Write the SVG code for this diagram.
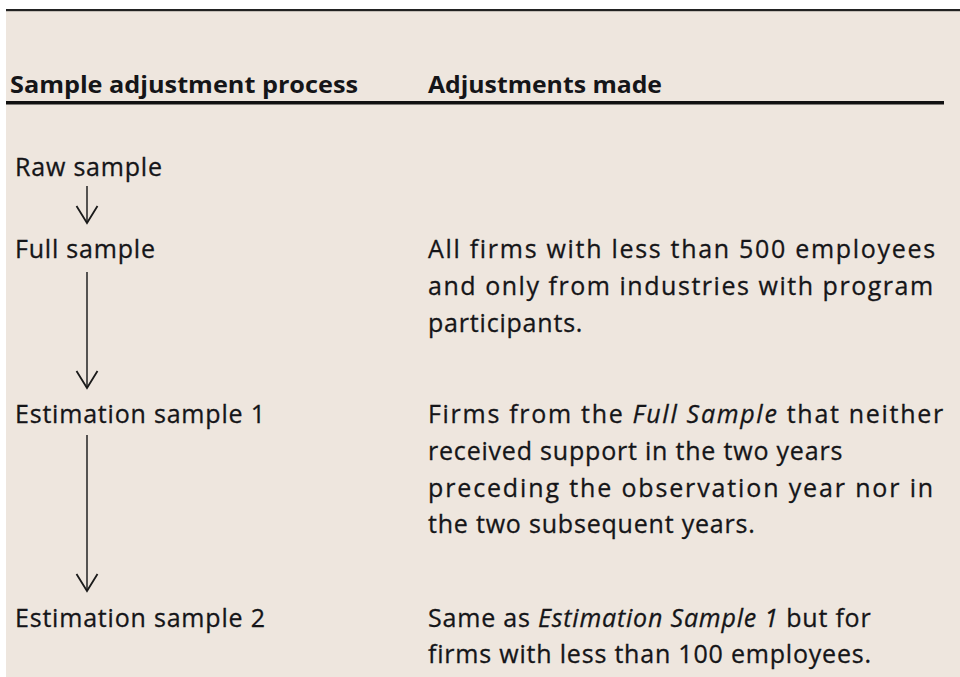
<svg xmlns="http://www.w3.org/2000/svg" width="960" height="677" viewBox="0 0 960 677">
  <style>
    .t { font-family: "Open Sans", "Liberation Sans", sans-serif; font-size: 25px; fill: #151518; stroke: #151518; stroke-width: 0.3px; letter-spacing: 0.8px; }
    .h { font-family: "Open Sans", "Liberation Sans", sans-serif; font-size: 24px; font-weight: bold; fill: #151518; }
    .i { font-style: italic; }
    .c { stroke: #2e2e2e; stroke-width: 1.6; fill: none; }
  </style>
  <defs>
    <marker id="head" markerUnits="userSpaceOnUse" viewBox="-19 -13 21 26" markerWidth="21" markerHeight="26" refX="0" refY="0" orient="auto" overflow="visible">
      <path d="M-17,-10.5 L0,0 L-17,10.5" fill="none" stroke="#1a1a1a" stroke-width="1.8" stroke-linejoin="miter"/>
    </marker>
  </defs>
  <rect x="0" y="0" width="960" height="677" fill="#ffffff"/>
  <rect x="6" y="10" width="954" height="667" fill="#EEE6DE"/>
  <rect x="6" y="9" width="954" height="2.2" fill="#222222"/>

  <g id="header">
    <text class="h" x="10" y="93" textLength="348" lengthAdjust="spacingAndGlyphs">Sample adjustment process</text>
    <text class="h" x="428" y="93" textLength="234" lengthAdjust="spacingAndGlyphs">Adjustments made</text>
    <rect x="6" y="101" width="938" height="3.5" fill="#111111"/>
  </g>

  <g id="raw-sample">
    <text class="t" x="15" y="176">Raw sample</text>
  </g>
  <g id="full-sample">
    <text class="t" x="15" y="258">Full sample</text>
  </g>
  <g id="estimation-sample-1">
    <text class="t" x="15" y="423">Estimation sample 1</text>
  </g>
  <g id="estimation-sample-2">
    <text class="t" x="15" y="627">Estimation sample 2</text>
  </g>

  <g id="full-sample-adjustment">
    <text class="t" x="428" y="258" textLength="508" lengthAdjust="spacing">All firms with less than 500 employees</text>
    <text class="t" x="428" y="295" textLength="506" lengthAdjust="spacing">and only from industries with program</text>
    <text class="t" x="428" y="332">participants.</text>
  </g>
  <g id="estimation-sample-1-adjustment">
    <text class="t" x="428" y="423" textLength="516" lengthAdjust="spacing">Firms from the <tspan class="i">Full Sample</tspan>  that neither</text>
    <text class="t" x="428" y="460">received support in the two years</text>
    <text class="t" x="428" y="497" textLength="506" lengthAdjust="spacing">preceding the observation year nor in</text>
    <text class="t" x="428" y="533">the two subsequent years.</text>
  </g>
  <g id="estimation-sample-2-adjustment">
    <text class="t" x="428" y="627">Same as <tspan class="i">Estimation Sample 1</tspan> but for</text>
    <text class="t" x="428" y="663">firms with less than 100 employees.</text>
  </g>

  <g id="connectors">
    <line class="c" x1="87" y1="186" x2="87" y2="223" marker-end="url(#head)"/>
    <line class="c" x1="87" y1="272" x2="87" y2="388" marker-end="url(#head)"/>
    <line class="c" x1="87" y1="435" x2="87" y2="591" marker-end="url(#head)"/>
  </g>
</svg>
